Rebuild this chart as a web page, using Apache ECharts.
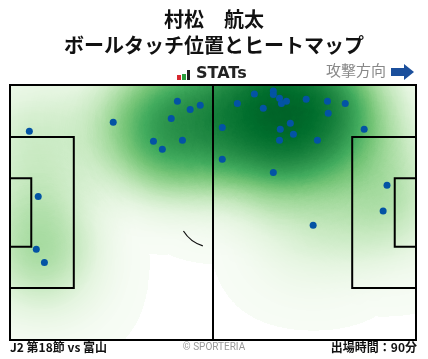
<!DOCTYPE html>
<html><head><meta charset="utf-8">
<script src="https://cdn.jsdelivr.net/npm/echarts@6/dist/echarts.min.js"></script>
<style>html,body{margin:0;padding:0;background:#fff}#c{width:428px;height:359px}</style>
</head><body><div id="c"></div>
<script>
// Touch positions in metres (x: 0..105 along attack direction, y: 0..68 from top touchline)
const touchX = [43.3,46.6,49.2,41.7,26.7,37.1,44.6,39.4,63.2,68.1,68.1,69.7,70.2,71.5,58.8,65.5,76.6,82.1,86.7,82.3,72.5,69.9,73.3,69.7,79.5,54.9,91.6,54.9,68.1,5.0,7.3,6.8,8.9,97.5,96.5,78.4];
const touchY = [4.3,6.5,5.4,8.9,9.9,15.0,14.7,17.1,2.4,1.6,2.5,3.5,4.9,4.3,4.9,6.2,3.8,4.3,4.9,7.5,10.2,11.8,13.1,14.7,14.7,11.3,11.8,19.8,23.3,12.3,29.7,43.8,47.3,26.7,33.6,37.4];

const playerName = '村松　航太';
const chartTitle = 'ボールタッチ位置とヒートマップ';
const matchLabel = 'J2 第18節 vs 富山';
const minutesLabel = '出場時間：90分';
const directionLabel = '攻撃方向';
const creditLabel = '© SPORTERIA';
const pitchLength = 105, pitchWidth = 68;

const points = touchX.map((x, i) => [x, touchY[i]]);
// geo space has y pointing up, so flip the touchline coordinate for the heat layer
const heatPoints = touchX.map((x, i) => [x, pitchWidth - touchY[i], 1]);
const greens = ['#f7fcf5', '#e5f5e0', '#c7e9c0', '#a1d99b', '#74c476', '#41ab5d', '#238b45', '#006d2c', '#00441b'];
const CJK = '"Noto Sans CJK JP", "Noto Sans", sans-serif';

echarts.registerMap('pitch', {
  type: 'FeatureCollection',
  features: [{type: 'Feature', properties: {name: 'pitch'},
    geometry: {type: 'Polygon', coordinates: [[[0, 0], [pitchLength, 0], [pitchLength, pitchWidth], [0, pitchWidth], [0, 0]]]}}]
});

function pitchRender(params, api) {
  const P = (x, y) => api.coord([x, y]);
  const st = {stroke: '#000', lineWidth: 2, fill: null};
  const rect = (x0, y0, x1, y1) => {
    const a = P(x0, y0), b = P(x1, y1);
    return {type: 'rect', shape: {x: Math.min(a[0], b[0]), y: Math.min(a[1], b[1]),
      width: Math.abs(b[0] - a[0]), height: Math.abs(b[1] - a[1])}, style: st};
  };
  const L = pitchLength, W = pitchWidth;
  const pbW = 40.32, gaW = 18.32;
  const mid = P(L / 2, W / 2);
  const top = P(L / 2, 0), bot = P(L / 2, W);
  const rs = api.size([9.15, 9.15]);
  return {type: 'group', children: [
    rect(0, 0, L, W),
    rect(0, (W - pbW) / 2, 16.5, (W + pbW) / 2),
    rect(0, (W - gaW) / 2, 5.5, (W + gaW) / 2),
    rect(L - 16.5, (W - pbW) / 2, L, (W + pbW) / 2),
    rect(L - 5.5, (W - gaW) / 2, L, (W + gaW) / 2),
    {type: 'line', shape: {x1: top[0], y1: top[1], x2: bot[0], y2: bot[1]}, style: st},
    {type: 'arc', shape: {cx: mid[0], cy: mid[1], r: (rs[0] + rs[1]) / 2,
      startAngle: 107 * Math.PI / 180, endAngle: 148 * Math.PI / 180, clockwise: true},
      style: {stroke: '#111', lineWidth: 1.2, fill: null}}
  ]};
}

const chart = echarts.init(document.getElementById('c'), null, {renderer: 'canvas'});
chart.setOption({
  backgroundColor: '#fff',
  animation: false,
  grid: {left: 10, top: 85, width: 406, height: 255},
  xAxis: {type: 'value', min: 0, max: pitchLength, show: false},
  yAxis: {type: 'value', min: 0, max: pitchWidth, inverse: true, show: false},
  geo: {map: 'pitch', left: 10, top: 85, width: 406, height: 255, roam: false, silent: true,
    itemStyle: {areaColor: 'rgba(0,0,0,0)', borderWidth: 0, borderColor: 'rgba(0,0,0,0)'},
    emphasis: {disabled: true}, label: {show: false}, z: 0},
  visualMap: {type: 'continuous', show: false, seriesIndex: 0, min: 0, max: 1.8,
    inRange: {color: greens}},
  graphic: [
    {type: 'text', left: 'center', top: 9, style: {text: playerName, font: 'bold 20px ' + CJK, fill: '#111'}},
    {type: 'text', left: 'center', top: 35, style: {text: chartTitle, font: 'bold 20px ' + CJK, fill: '#111'}},
    {type: 'rect', shape: {x: 177, y: 75, width: 4, height: 5}, style: {fill: '#d7282f'}},
    {type: 'rect', shape: {x: 182, y: 74, width: 4, height: 6}, style: {fill: '#2a9d3c'}},
    {type: 'rect', shape: {x: 187, y: 70, width: 3, height: 10}, style: {fill: '#222'}},
    {type: 'text', x: 196, y: 66, style: {text: 'STATs', font: 'bold 16px "DejaVu Sans", sans-serif', fill: '#222'}},
    {type: 'text', x: 326, y: 63, style: {text: directionLabel, font: '15px ' + CJK, fill: '#888'}},
    {type: 'polygon', shape: {points: [[391, 68], [404, 68], [404, 64], [414, 72], [404, 80], [404, 76], [391, 76]]}, style: {fill: '#1b4f9c'}},
    {type: 'text', x: 10, y: 341, style: {text: matchLabel, font: 'bold 12px ' + CJK, fill: '#111'}},
    {type: 'text', left: 'center', top: 342, style: {text: creditLabel, font: '10px "Roboto", sans-serif', fill: '#999'}},
    {type: 'text', right: 11, top: 341, style: {text: minutesLabel, font: 'bold 12px ' + CJK, fill: '#111'}}
  ],
  series: [
    {type: 'heatmap', coordinateSystem: 'geo', data: heatPoints, pointSize: 32, blurSize: 75,
      minOpacity: 1, maxOpacity: 1, silent: true, z: 1},
    {type: 'custom', name: 'pitch', z: 3, silent: true, data: [[0, 0]],
      encode: {x: 0, y: 1}, renderItem: pitchRender},
    {type: 'scatter', name: 'touch', z: 4, data: points, symbolSize: 7,
      itemStyle: {color: '#0353a4', opacity: 1}}
  ]
});
</script></body></html>
